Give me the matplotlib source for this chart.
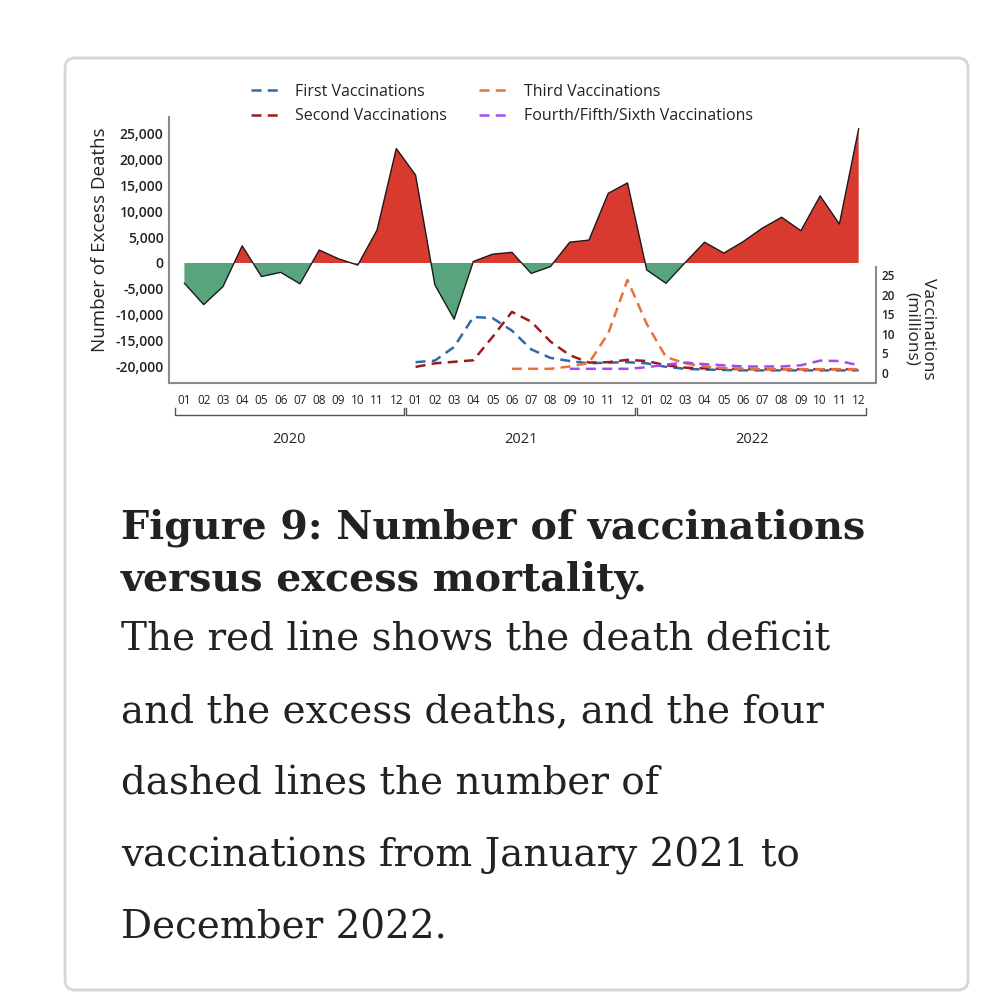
import matplotlib
matplotlib.use('Agg')
import matplotlib.pyplot as plt
import matplotlib.transforms as mtransforms
from matplotlib.patches import FancyBboxPatch
from matplotlib.ticker import FuncFormatter
import numpy as np

# ---- data (monthly, Jan 2020 - Dec 2022) ----
years = ['2020', '2021', '2022']
months = ['01', '02', '03', '04', '05', '06', '07', '08', '09', '10', '11', '12']

excess_deaths = [-3900, -8000, -4550, 3300, -2600, -1800, -4000, 2500, 800, -400, 6350, 22000,
                 16900, -4200, -10800, 300, 1700, 2050, -2000, -700, 4000, 4400, 13400, 15400,
                 -1350, -3900, 100, 4000, 1900, 4100, 6700, 8800, 6200, 12900, 7500, 25800]

# vaccinations in millions, Jan 2021 - Dec 2022 (None = not started yet)
first_vacc = [2.7, 3.1, 6.6, 14.3, 14.0, 10.8, 6.0, 3.8, 3.0, 2.4, 2.6, 2.7,
              2.4, 1.5, 1.0, 0.8, 0.7, 0.6, 0.6, 0.6, 0.6, 0.6, 0.6, 0.6]
second_vacc = [1.5, 2.4, 2.8, 3.2, 9.2, 15.6, 13.1, 8.0, 4.5, 2.6, 2.7, 3.3,
               3.0, 1.9, 1.3, 1.1, 1.0, 0.9, 0.9, 0.9, 0.9, 0.9, 0.9, 0.9]
third_vacc = [None, None, None, None, None, 1.0, 1.0, 1.0, 1.6, 2.5, 10.1, 23.8,
              12.5, 4.0, 2.4, 1.6, 1.2, 1.0, 0.9, 0.9, 0.9, 0.9, 0.9, 0.9]
fourth_vacc = [None, None, None, None, None, None, None, None, 1.0, 1.0, 1.0, 1.0,
               1.4, 2.1, 2.6, 2.2, 1.9, 1.6, 1.6, 1.6, 1.9, 3.1, 3.0, 1.9]

vacc_series = [
    ('First Vaccinations', first_vacc, '#2f6aa8'),
    ('Second Vaccinations', second_vacc, '#9a1d1d'),
    ('Third Vaccinations', third_vacc, '#e8703a'),
    ('Fourth/Fifth/Sixth Vaccinations', fourth_vacc, '#a64be6'),
]

title_lines = ['Figure 9: Number of vaccinations', 'versus excess mortality.']
body_lines = ['The red line shows the death deficit',
              'and the excess deaths, and the four',
              'dashed lines the number of',
              'vaccinations from January 2021 to',
              'December 2022.']

plt.rcParams['font.family'] = ['Open Sans', 'DejaVu Sans']

fig = plt.figure(figsize=(10.08, 10.0), dpi=100)
fig.patch.set_facecolor('white')

# card outline
card = FancyBboxPatch((65 / 1008, 1 - 990 / 1000), (968 - 65) / 1008, (990 - 58) / 1000,
                      boxstyle='round,pad=0,rounding_size=0.01', transform=fig.transFigure,
                      facecolor='none', edgecolor='#d6d6d6', linewidth=2, zorder=-1)
fig.patches.append(card)

ax = fig.add_axes([169 / 1008, 1 - 383 / 1000, (876 - 169) / 1008, (383 - 117) / 1000])
ax.set_facecolor('none')

x = np.arange(len(excess_deaths))
y = np.array(excess_deaths, dtype=float)
ax.fill_between(x, y, 0, where=y >= 0, interpolate=True, color='#d93a30', linewidth=0)
ax.fill_between(x, y, 0, where=y <= 0, interpolate=True, color='#58a47c', linewidth=0)
ax.plot(x, y, color='#1a1a1a', linewidth=1.0)

ax.set_xlim(-0.8, 35.9)
ax.set_ylim(-23077, 28077)
ax.set_yticks(np.arange(-20000, 25001, 5000))
ax.yaxis.set_major_formatter(FuncFormatter(lambda v, p: f'{int(v):,}'))
ax.set_xticks(x)
ax.set_xticklabels(months * len(years))
ax.tick_params(axis='x', length=0, pad=8, labelsize=8.5, colors='#222222')
ax.tick_params(axis='y', length=0, pad=4, labelsize=10, colors='#222222')
for lab in ax.get_yticklabels():
    lab.set_fontweight('semibold')
ax.set_ylabel('Number of Excess Deaths', fontsize=13.5, color='#222222')
ax.yaxis.set_label_coords(-0.085, 0.54)

for side in ['top', 'right']:
    ax.spines[side].set_visible(False)
for side in ['left', 'bottom']:
    ax.spines[side].set_color('#8a8a8a')
    ax.spines[side].set_linewidth(1.5)

# year brackets under the month labels
trans = mtransforms.blended_transform_factory(ax.transData, ax.transAxes)
for i, yr in enumerate(years):
    x0 = 12 * i - 0.5
    x1 = 12 * i + 11.4
    ax.plot([x0, x0, x1, x1], [-0.095, -0.122, -0.122, -0.095], transform=trans,
            color='#555555', linewidth=1.0, clip_on=False)
    ax.text(12 * i + 5.45, -0.212, yr, transform=trans, ha='center', va='center',
            fontsize=10.5, color='#222222')

# vaccinations on the right axis
ax2 = ax.twinx()
vx = np.arange(12, 36)
for name, vals, col in vacc_series:
    v = np.array([np.nan if val is None else val for val in vals], dtype=float)
    ax2.plot(vx, v, color=col, linewidth=1.8, linestyle=(0, (4, 2.5)), label=name)
ax2.set_ylim(-2.64, 65.6)
ax2.set_yticks(np.arange(0, 26, 5))
ax2.tick_params(axis='y', length=0, pad=4, labelsize=8.5, colors='#222222')
for lab in ax2.get_yticklabels():
    lab.set_fontweight('semibold')
for side in ['top', 'left', 'bottom']:
    ax2.spines[side].set_visible(False)
ax2.spines['right'].set_bounds(-2.64, 27.1)
ax2.spines['right'].set_color('#8a8a8a')
ax2.spines['right'].set_linewidth(1.5)
ax2.text(1.062, 0.205, 'Vaccinations\n(millions)', transform=ax2.transAxes, rotation=270,
         ha='center', va='center', fontsize=12.5, color='#222222', linespacing=1.05)

leg = ax2.legend(loc='lower left', bbox_to_anchor=(0.095, 0.918), ncol=2, frameon=False,
                 fontsize=11.5, handlelength=2.0, handletextpad=0.8,
                 columnspacing=2.0, labelspacing=0.55)
for t in leg.get_texts():
    t.set_color('#222222')

# caption
for i, line in enumerate(title_lines):
    fig.text(121 / 1008, 1 - (528 + 52 * i) / 1000, line, family='DejaVu Serif',
             fontweight='bold', fontsize=28.5, color='#222222', va='center', ha='left')
for i, line in enumerate(body_lines):
    fig.text(121 / 1008, 1 - (640 + 72 * i) / 1000, line, family='DejaVu Serif',
             fontsize=28, color='#222222', va='center', ha='left')

fig.savefig('out.png', dpi=100, facecolor='white')
